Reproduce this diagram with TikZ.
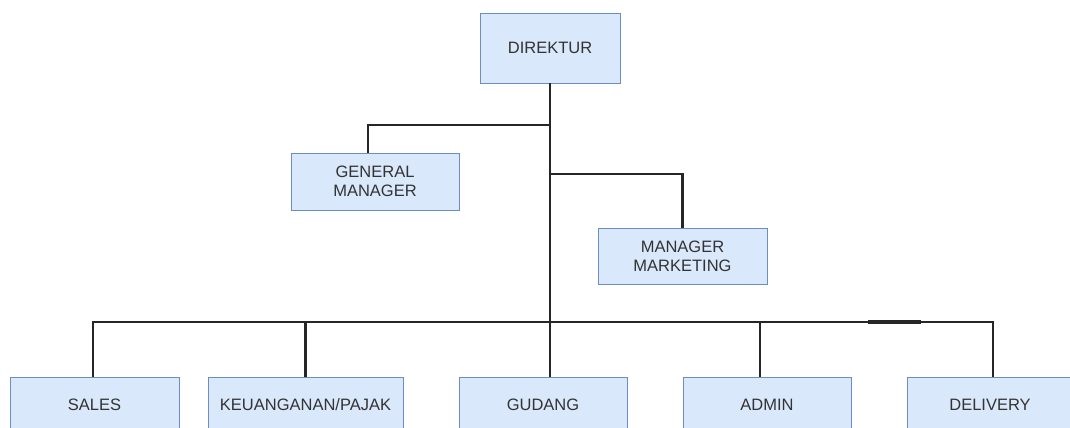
\documentclass[tikz,border=0pt]{standalone}
\usepackage{fontspec}
\setmainfont{Liberation Sans}
\definecolor{boxfill}{HTML}{DAE8FC}
\definecolor{boxline}{HTML}{6C8EBF}
\begin{document}
\begin{tikzpicture}[x=1pt,y=-1pt,
    box/.style={draw=boxline,fill=boxfill,text=black!80,align=center,
        inner sep=0pt,font=\fontsize{16.5}{19}\selectfont},
    wire/.style={line width=2.6pt,black!85}]

    \useasboundingbox (0,0) rectangle (1070,428);

    % top
    \node[box,minimum width=140,minimum height=70] (direktur) at (550,48) {DIREKTUR};
    \node[box,minimum width=168,minimum height=57] (gm) at (375,181.5) {GENERAL\\MANAGER};
    \node[box,minimum width=169,minimum height=56] (mm) at (682.5,256) {MANAGER\\MARKETING};

    % bottom row
    \node[box,minimum width=169,minimum height=56] (sales) at (94.5,405) {SALES};
    \node[box,minimum width=195,minimum height=56] (keuangan) at (305.5,405) {KEUANGANAN/PAJAK};
    \node[box,minimum width=168,minimum height=56] (gudang) at (543,405) {GUDANG};
    \node[box,minimum width=168,minimum height=56] (admin) at (767,405) {ADMIN};
    \node[box,minimum width=166,minimum height=56] (delivery) at (990,405) {DELIVERY};

    \coordinate (jgm) at (550,125);
    \coordinate (jmm) at (550,174);
    \coordinate (busl) at (93,322);
    \coordinate (busr) at (993,322);

    \draw[wire] (direktur.south) -- (direktur.south |- gudang.north);
    \draw[wire] (jgm) -| ([xshift=-7]gm.north);
    \draw[wire] (jmm) -| (mm.north);
    \draw[wire] (busl |- sales.north) -- (busl) -- (busr) -- (busr |- delivery.north);
    \draw[wire] (keuangan.north) -- (keuangan.north |- busl);
    \draw[wire] ([xshift=-7]admin.north) -- ([xshift=-7]admin.north |- busl);
    \draw[line width=3.6pt,black!85] (868,322) -- (921,322);
\end{tikzpicture}
\end{document}
